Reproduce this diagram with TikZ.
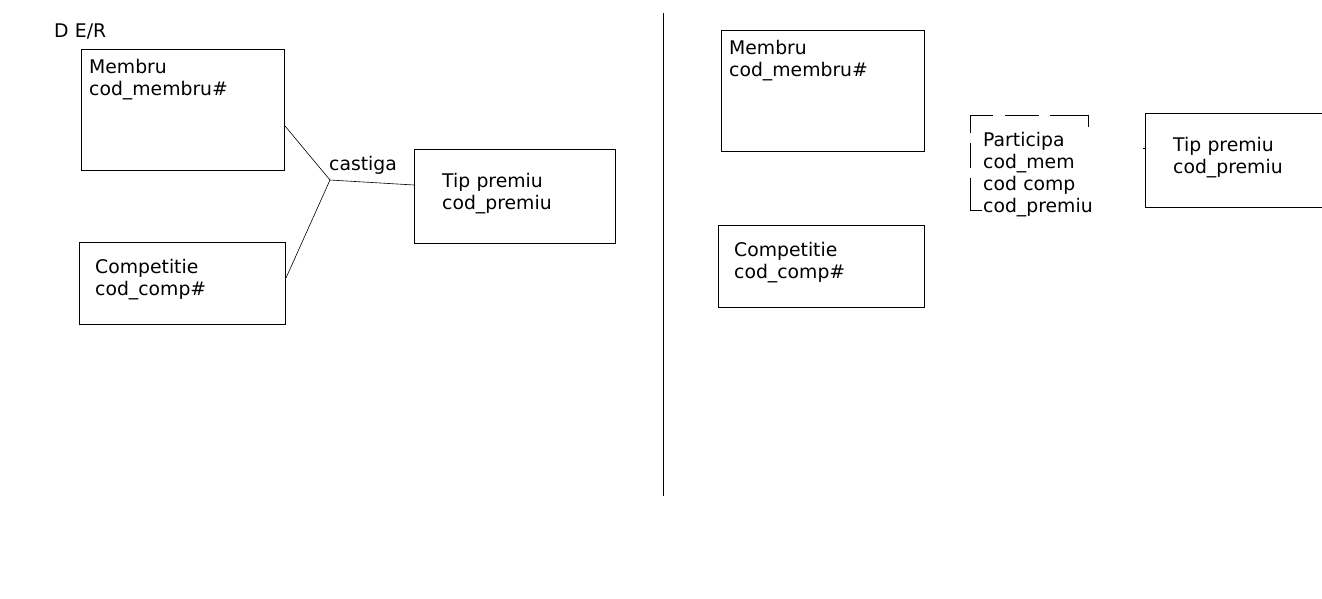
\documentclass[tikz,border=0pt]{standalone}
\usepackage{fontspec}
\setmainfont{DejaVu Sans}
\begin{document}
\begin{tikzpicture}[x=1pt,y=-1pt,
  box/.style={draw,line width=1pt,anchor=north west,inner sep=0pt},
  lbl/.style={anchor=base west,inner sep=0pt,text width=170pt,align=left,font=\fontsize{18.8}{22}\selectfont},
  thin/.style={line width=0.6pt},
  edge/.style={line width=1pt}]
\useasboundingbox[fill=white] (0,0) rectangle (1322,598);
% title
\node[lbl] (der) at (54,37) {D E/R};
% left diagram
\node[box,minimum width=203pt,minimum height=121pt] (m1) at (81,49) {};
\node[lbl] (m1t) at (89,73) {Membru\\cod\_membru\#};
\node[box,minimum width=206pt,minimum height=82pt] (c1) at (79,242) {};
\node[lbl] (c1t) at (95,273) {Competitie\\cod\_comp\#};
\node[box,minimum width=201pt,minimum height=94pt] (t1) at (414,149) {};
\node[lbl] (t1t) at (442,187) {Tip premiu\\cod\_premiu};
\node[lbl,text width=80pt] (cst) at (329,170) {castiga};
\coordinate (j) at (330,180);
\coordinate (m1e) at (m1.east |- 0,126);
\coordinate (c1e) at (c1.east |- 0,278);
\coordinate (t1w) at (t1.west |- 0,185);
\draw[thin] (m1e) -- (j);
\draw[thin] (c1e) -- (j);
\draw[thin] (j) -- (t1w);
% divider
\coordinate (dtop) at (663,13);
\coordinate (dbot) at (663,496);
\draw[line width=1pt] (dtop) -- (dbot);
% right diagram
\node[box,minimum width=203pt,minimum height=121pt] (m2) at (721,30) {};
\node[lbl] (m2t) at (729,54) {Membru\\cod\_membru\#};
\node[box,minimum width=206pt,minimum height=82pt] (c2) at (718,225) {};
\node[lbl] (c2t) at (734,256) {Competitie\\cod\_comp\#};
\node[lbl] (pt) at (983,146) {Participa\\cod\_mem\\cod comp\\cod\_premiu};
% partial border of Participa
\draw[edge] (970,133) -- (970,115) -- (993,115);
\draw[edge] (1005,115) -- (1039,115);
\draw[edge] (1050,115) -- (1088,115) -- (1088,127);
\draw[edge] (970,143) -- (970,168);
\draw[edge] (970,178) -- (970,210) -- (982,210);
% open Tip premiu box at right edge
\coordinate (t2a) at (1322,113);
\coordinate (t2b) at (1145,113);
\coordinate (t2c) at (1145,207);
\coordinate (t2d) at (1322,207);
\draw[edge] (t2a) -- (t2b) -- (t2c) -- (t2d);
\node[lbl] (t2t) at (1173,151) {Tip premiu\\cod\_premiu};
\coordinate (tk) at (1143,148);
\draw[edge] (tk) -- (t2b |- tk);
\end{tikzpicture}
\end{document}
